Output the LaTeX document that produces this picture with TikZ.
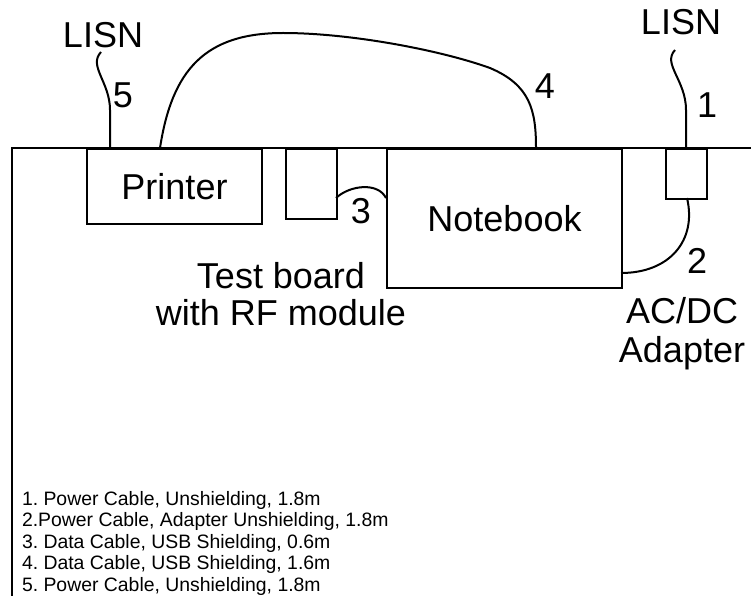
\documentclass[tikz,border=0pt]{standalone}
\usepackage{fontspec}
\setmainfont{Liberation Sans}
\frenchspacing
\begin{document}
\begin{tikzpicture}[x=1pt,y=-1pt,line width=2pt,
  big/.style={font=\fontsize{36}{37}\selectfont},
  lbl/.style={big,anchor=base,inner sep=0pt},
  box/.style={draw,inner sep=0pt,anchor=north west,text depth=0pt,big},
  cable/.style={line width=2pt},
  legend/.style={font=\fontsize{19.4}{21.5}\selectfont,anchor=base west,inner sep=0pt}]
\useasboundingbox (0,0) rectangle (751,596);
% table edge
\coordinate (tR) at (751,148);
\coordinate (tC) at (12,148);
\coordinate (tB) at (12,596);
\draw (tR) -- (tC) -- (tB);
% boxes
\node[box,minimum width=175pt,minimum height=75pt] (printer) at (86,148) {Printer};
\node[box,minimum width=51pt,minimum height=70pt] (board) at (285,148) {};
\node[box,minimum width=235pt,minimum height=139pt] (notebook) at (386,148) {Notebook};
\node[box,minimum width=41pt,minimum height=50pt] (adapter) at (665,148) {};
% labels
\node[lbl] (lisnL) at (103,48) {LISN};
\node[lbl] (lisnR) at (681,35) {LISN};
\node[lbl] (n5) at (123,108) {5};
\node[lbl] (n4) at (545,99) {4};
\node[lbl] (n1) at (707,118) {1};
\node[lbl] (n2) at (697,273) {2};
\node[lbl] (n3) at (361,223) {3};
\node[lbl] (tb1) at (281,288) {Test board};
\node[lbl] (tb2) at (281,325) {with RF module};
\node[lbl] (ac1) at (682,323) {AC/DC};
\node[lbl] (ac2) at (682,362) {Adapter};
% cable end points
\coordinate (c5a) at (101,52);
\coordinate (c5b) at (110,148);
\coordinate (c1a) at (675,50);
\coordinate (c1b) at (686,148);
\coordinate (c4a) at (160,148);
\coordinate (c4b) at (536,148);
\coordinate (c3a) at (336,198);
\coordinate (c3b) at (386,198);
\coordinate (c2a) at (687,198);
\coordinate (c2b) at (621,273);
% cables
\draw[cable] (c5a) .. controls (88,66) and (110,82) .. (110,110) -- (c5b);
\draw[cable] (c1a) .. controls (662,64) and (686,80) .. (686,110) -- (c1b);
\draw[cable] (c4a) .. controls (172,70) and (205,33) .. (283,33)
  .. controls (350,33) and (440,50) .. (490,68)
  .. controls (530,85) and (536,110) .. (c4b);
\draw[cable] (c3a) .. controls (350,185) and (378,182) .. (c3b);
\draw[cable] (c2a) .. controls (697,240) and (670,273) .. (c2b);
% legend
\node[legend] (lg1) at (21,505) {1. Power Cable, Unshielding, 1.8m};
\node[legend] (lg2) at (21,526.5) {2.Power Cable, Adapter Unshielding, 1.8m};
\node[legend] (lg3) at (21,548) {3. Data Cable, USB Shielding, 0.6m};
\node[legend] (lg4) at (21,569.5) {4. Data Cable, USB Shielding, 1.6m};
\node[legend] (lg5) at (21,591) {5. Power Cable, Unshielding, 1.8m};
\end{tikzpicture}
\end{document}
